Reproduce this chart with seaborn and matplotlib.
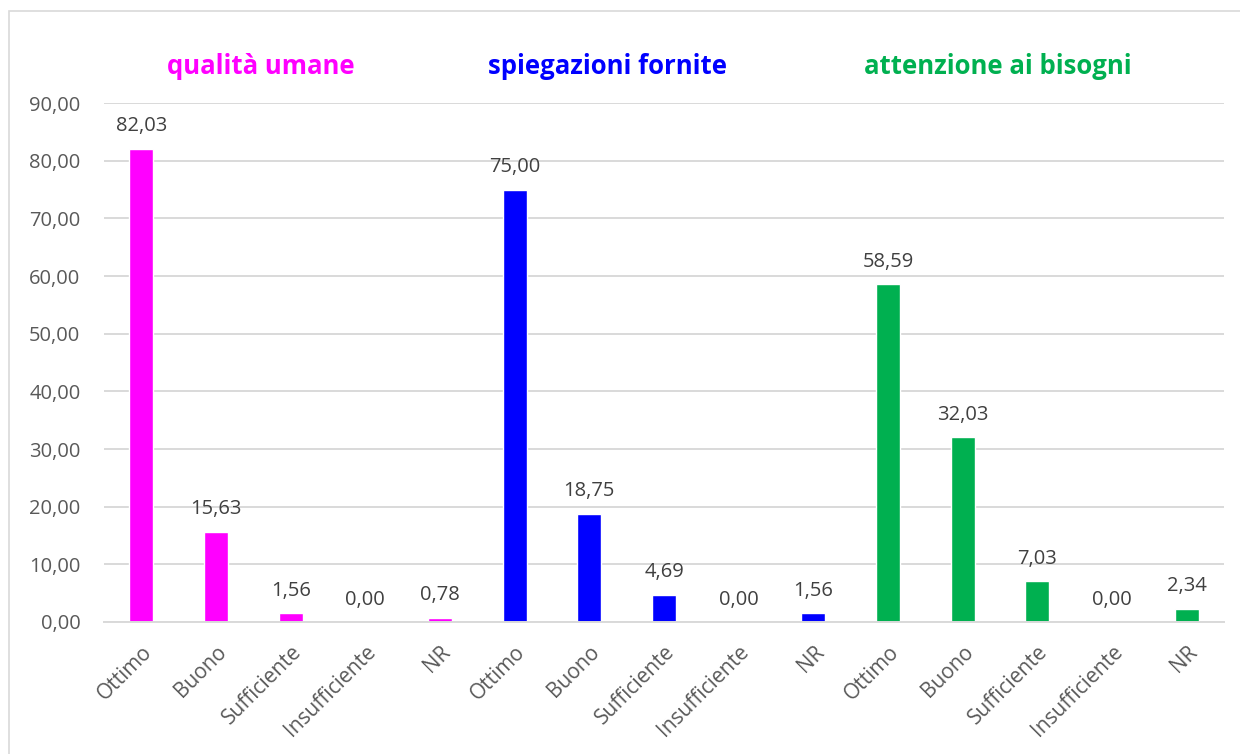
import matplotlib
matplotlib.use("Agg")
import matplotlib.pyplot as plt
from matplotlib.patches import Rectangle
import seaborn as sns
import pandas as pd

# Survey results (percentages) for three satisfaction aspects
groups = ["qualità umane", "spiegazioni fornite", "attenzione ai bisogni"]
ratings = ["Ottimo", "Buono", "Sufficiente", "Insufficiente", "NR"]
qualita_umane = [82.03, 15.63, 1.56, 0.00, 0.78]
spiegazioni_fornite = [75.00, 18.75, 4.69, 0.00, 1.56]
attenzione_bisogni = [58.59, 32.03, 7.03, 0.00, 2.34]
colors = ["#FF00FF", "#0000FF", "#00B050"]

values = [qualita_umane, spiegazioni_fornite, attenzione_bisogni]
rows = []
for g, vals in zip(groups, values):
    for r, v in zip(ratings, vals):
        rows.append({"key": f"{g}|{r}", "group": g, "rating": r, "value": v})
df = pd.DataFrame(rows)

sns.set_theme(style="white")
plt.rcParams["font.family"] = ["Open Sans", "DejaVu Sans"]

fig = plt.figure(figsize=(12.4, 7.54), dpi=100)
ax = fig.add_axes([104 / 1240, 1 - 622 / 754, 1120 / 1240, 519 / 754])

sns.barplot(data=df, x="key", y="value", hue="group", palette=colors,
            dodge=False, width=0.32, ax=ax, legend=False, saturation=1)

ax.set_ylim(0, 90)
ax.set_yticks(range(0, 91, 10))
ax.set_yticklabels([f"{t},00" for t in range(0, 91, 10)], fontsize=14.5, color="#595959")
ax.set_xticks(range(len(df)))
ax.set_xticklabels(df["rating"], rotation=45, ha="right", rotation_mode="anchor",
                   fontsize=15, color="#595959")
ax.tick_params(axis="y", length=0, pad=17)
ax.tick_params(axis="x", length=0, pad=14)
ax.set_xlabel("")
ax.set_ylabel("")
ax.grid(axis="y", color="#D9D9D9", linewidth=1.4)
ax.set_axisbelow(True)
for s in ["left", "right", "top"]:
    ax.spines[s].set_visible(False)
ax.spines["bottom"].set_color("#D9D9D9")
ax.spines["bottom"].set_linewidth(1.4)
ax.set_xlim(-0.5, len(df) - 0.5)

# value labels above each bar
for container in ax.containers:
    ax.bar_label(container, labels=[f"{b.get_height():.2f}".replace(".", ",") for b in container],
                 padding=9, fontsize=14.5, color="#404040")

# group headers placed across the top of the chart
header_x = [0.210, 0.490, 0.805]
for x, g, c in zip(header_x, groups, colors):
    fig.text(x, 1 - 66 / 754, g, color=c, fontsize=18.5, fontweight="bold",
             ha="center", va="center")

# outer chart frame
fig.patches.append(Rectangle((9 / 1240, -0.05), 1.2, 1 - 11 / 754 + 0.05,
                             transform=fig.transFigure, fill=False,
                             edgecolor="#D9D9D9", linewidth=1.2))

fig.savefig("out.png", dpi=100)
